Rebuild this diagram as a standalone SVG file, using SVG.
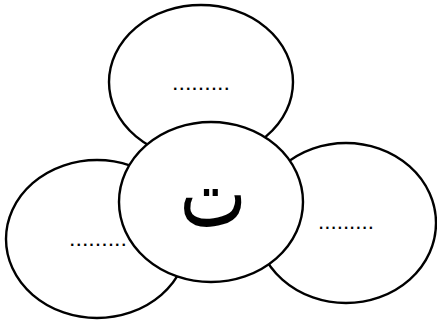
<svg xmlns="http://www.w3.org/2000/svg" width="437" height="320" viewBox="0 0 437 320">
<style>
.e{fill:#fff;stroke:#000;stroke-width:2.4}
.d{font-family:"Liberation Sans",Arial,sans-serif;font-size:22px;fill:#000}
.c{font-family:"DejaVu Sans",sans-serif;font-size:70px;fill:#000}
</style>
<rect width="437" height="320" fill="#fff"/>
<g id="top"><ellipse class="e" cx="201" cy="82" rx="92" ry="77"/><text class="d" x="172" y="90" textLength="58" lengthAdjust="spacingAndGlyphs">.........</text></g>
<g id="left"><ellipse class="e" cx="97" cy="239" rx="91" ry="79"/><text class="d" x="69" y="246" textLength="58" lengthAdjust="spacingAndGlyphs">.........</text></g>
<g id="right"><ellipse class="e" cx="346" cy="223" rx="90" ry="80"/><text class="d" x="318" y="229" textLength="56" lengthAdjust="spacingAndGlyphs">.........</text></g>
<g id="center"><ellipse class="e" cx="211" cy="202" rx="92" ry="80"/><text class="c" transform="translate(213,226) scale(1.02,1.35)" x="0" y="0" text-anchor="middle">ت</text></g>
</svg>
